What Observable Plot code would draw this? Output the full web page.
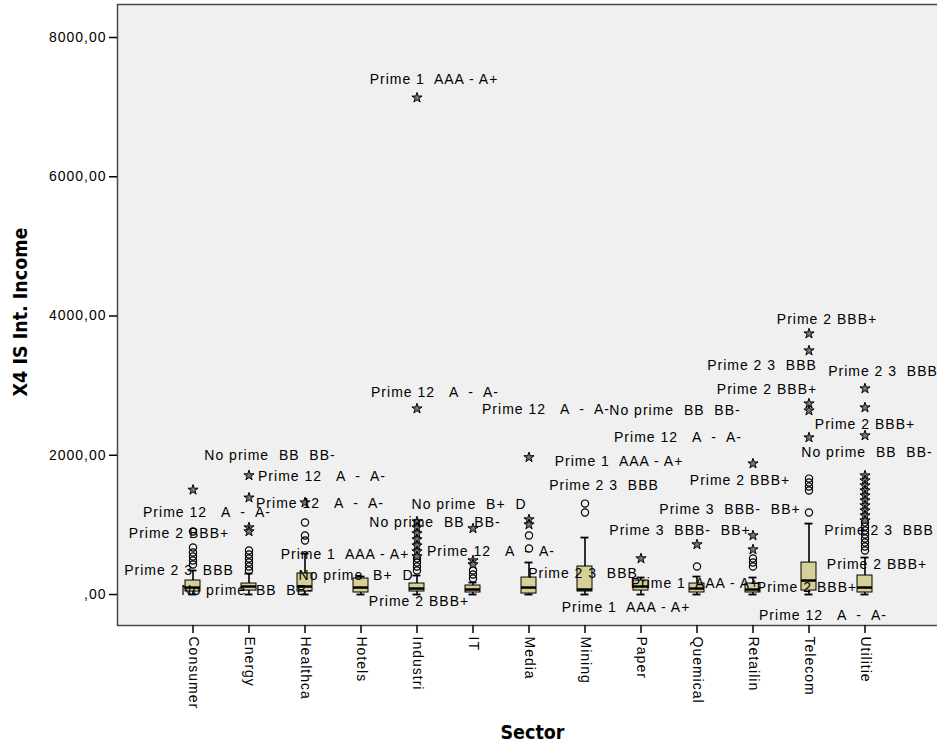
<!DOCTYPE html>
<html>
<head>
<meta charset="utf-8">
<script src="https://cdn.jsdelivr.net/npm/d3@7"></script>
<script src="https://cdn.jsdelivr.net/npm/@observablehq/plot@0.6"></script>
<style>
  html, body { margin: 0; padding: 0; background: #ffffff; overflow: hidden; }
  #chart { width: 937px; height: 751px; }
</style>
</head>
<body>
<div id="chart"></div>
<script>
// ---- Data ----
const sectors = ["Consumer","Energy","Healthca","Hotels","Industri","IT","Media","Mining","Paper","Quemical","Retailin","Telecom","Utilitie"];
const whiskerLow  = [0, 0, 0, 0, 0, 0, 0, 0, 0, 0, 0, 0, 0];
const q1          = [43, 57, 43, 29, 43, 29, 14, 43, 57, 29, 29, 57, 29];
const median      = [100, 115, 115, 100, 86, 72, 100, 72, 115, 86, 72, 201, 100];
const q3          = [201, 158, 302, 230, 158, 129, 244, 402, 201, 158, 158, 459, 273];
const whiskerHigh = [345, 301, 589, 258, 273, 172, 460, 818, 244, 258, 244, 1019, 531];

const circleOutliers = [
  ["Consumer", 905], ["Consumer", 675], ["Consumer", 603], ["Consumer", 546], ["Consumer", 488], ["Consumer", 431],
  ["Energy", 632], ["Energy", 574], ["Energy", 517], ["Energy", 459], ["Energy", 402], ["Energy", 345],
  ["Healthca", 1034], ["Healthca", 847], ["Healthca", 775],
  ["Industri", 517], ["Industri", 459], ["Industri", 402], ["Industri", 345],
  ["IT", 345], ["IT", 287], ["IT", 230],
  ["Media", 847], ["Media", 660],
  ["Mining", 1306], ["Mining", 1177],
  ["Quemical", 402],
  ["Retailin", 517], ["Retailin", 460], ["Retailin", 402],
  ["Telecom", 1665], ["Telecom", 1608], ["Telecom", 1550], ["Telecom", 1493], ["Telecom", 1177],
  ["Utilitie", 1034], ["Utilitie", 976], ["Utilitie", 919], ["Utilitie", 862], ["Utilitie", 804], ["Utilitie", 747], ["Utilitie", 689], ["Utilitie", 632]
];

const starOutliers = [
  ["Consumer", 1503],
  ["Energy", 1710], ["Energy", 1390], ["Energy", 962], ["Energy", 905],
  ["Healthca", 1321],
  ["Industri", 7135], ["Industri", 2670], ["Industri", 1048], ["Industri", 962], ["Industri", 876], ["Industri", 790], ["Industri", 703], ["Industri", 617], ["Industri", 546],
  ["IT", 948], ["IT", 488], ["IT", 431],
  ["Media", 1970], ["Media", 1077], ["Media", 1005],
  ["Paper", 517],
  ["Quemical", 718],
  ["Retailin", 1880], ["Retailin", 847], ["Retailin", 646],
  ["Telecom", 3747], ["Telecom", 3503], ["Telecom", 2742], ["Telecom", 2641], ["Telecom", 2254],
  ["Utilitie", 2958], ["Utilitie", 2685], ["Utilitie", 2283],
  ["Utilitie", 1708], ["Utilitie", 1637], ["Utilitie", 1565], ["Utilitie", 1493], ["Utilitie", 1421],
  ["Utilitie", 1350], ["Utilitie", 1278], ["Utilitie", 1206], ["Utilitie", 1134], ["Utilitie", 1062]
];

// case labels: [text, sector, value, horizontal offset from the sector centre]
const caseLabels = [
  ["Prime 1  AAA - A+", "Industri", 7394, 17],
  ["Prime 12   A  -  A-", "Industri", 2900, 18],
  ["Prime 12   A  -  A-", "Media", 2656, 17],
  ["No prime  BB  BB-", "Paper", 2642, 34],
  ["Prime 12   A  -  A-", "Quemical", 2254, -19],
  ["Prime 1  AAA - A+", "Mining", 1909, 34],
  ["Prime 2 3  BBB", "Mining", 1565, 19],
  ["Prime 3  BBB-  BB+", "Quemical", 1220, 33],
  ["Prime 3  BBB-  BB+", "Paper", 919, 39],
  ["Prime 2 BBB+", "Retailin", 1637, -13],
  ["Prime 2 BBB+", "Telecom", 3948, 18],
  ["Prime 2 3  BBB", "Retailin", 3288, 9],
  ["Prime 2 BBB+", "Retailin", 2943, 14],
  ["Prime 2 3  BBB", "Utilitie", 3202, 18],
  ["Prime 2 BBB+", "Utilitie", 2441, 0],
  ["No prime  BB  BB-", "Utilitie", 2039, 2],
  ["Prime 2 3  BBB", "Utilitie", 919, 14],
  ["Prime 2 BBB+", "Utilitie", 431, 12],
  ["Prime 2 3  BBB", "Mining", 301, -2],
  ["Prime 1  AAA - A+", "Quemical", 158, -2],
  ["Prime 2 BBB+", "Telecom", 100, -2],
  ["Prime 1  AAA - A+", "Mining", -187, 41],
  ["Prime 12   A  -  A-", "Telecom", -301, 14],
  ["No prime  B+  D", "IT", 1292, -4],
  ["No prime  BB  BB-", "Industri", 1034, 18],
  ["Prime 12   A  -  A-", "IT", 617, 18],
  ["Prime 2 BBB+", "Industri", -100, 2],
  ["No prime  BB  BB-", "Energy", 1996, 21],
  ["Prime 12   A  -  A-", "Healthca", 1694, 17],
  ["Prime 12   A  -  A-", "Healthca", 1306, 15],
  ["Prime 12   A  -  A-", "Consumer", 1177, 14],
  ["Prime 2 BBB+", "Consumer", 876, -14],
  ["Prime 1  AAA - A+", "Hotels", 574, -16],
  ["Prime 2 3  BBB", "Consumer", 345, -14],
  ["No prime  B+  D", "Hotels", 273, -5],
  ["No prime  BB  BB-", "Energy", 57, -2]
];

const yTicks = [0, 2000, 4000, 6000, 8000];
const yTitle = "X4 IS Int. Income";
const xTitle = "Sector";

// ---- Build tables ----
const boxes = sectors.map((s, i) => ({sector: s, lo: whiskerLow[i], q1: q1[i], med: median[i], q3: q3[i], hi: whiskerHigh[i]}));
const circles = circleOutliers.map(([sector, value]) => ({sector, value}));
const stars = starOutliers.map(([sector, value]) => ({sector, value}));
const labels = caseLabels.map(([text, sector, value, dx]) => ({text, sector, value, dx}));

const titleFont = "'DejaVu Sans Condensed', 'Liberation Sans Narrow', 'Arial Narrow', 'Liberation Sans', sans-serif";

const chart = Plot.plot({
  width: 937,
  height: 751,
  marginLeft: 117,
  marginRight: -2,
  marginTop: 4,
  marginBottom: 126,
  style: "background: #ffffff; font-family: 'Liberation Sans', Arial, sans-serif; font-size: 14px; letter-spacing: 1px; color: #000;",
  x: {type: "band", domain: sectors, paddingInner: 0.737, paddingOuter: 1.08, label: null},
  y: {domain: [-445, 8474], label: null},
  marks: [
    Plot.frame({fill: "#f0f0f0", stroke: "#4a4a4a", strokeWidth: 1.5}),
    Plot.axisY({ticks: yTicks, tickSize: 8, tickPadding: 3, strokeWidth: 1.5,
      tickFormat: d => d === 0 ? ",00" : d + ",00", fontSize: 14}),
    Plot.axisX({tickSize: 8, tickPadding: 3, tickRotate: 90, strokeWidth: 1.5, fontSize: 14}),
    // whiskers
    Plot.ruleX(boxes, {x: "sector", y1: "q3", y2: "hi", stroke: "#000", strokeWidth: 1.6}),
    Plot.ruleX(boxes, {x: "sector", y1: "lo", y2: "q1", stroke: "#000", strokeWidth: 1.6}),
    Plot.tickY(boxes, {x: "sector", y: "hi", stroke: "#000", strokeWidth: 1.8, insetLeft: 3.5, insetRight: 3.5}),
    Plot.tickY(boxes, {x: "sector", y: "lo", stroke: "#000", strokeWidth: 1.8, insetLeft: 3.5, insetRight: 3.5}),
    // boxes
    Plot.barY(boxes, {x: "sector", y1: "q1", y2: "q3", fill: "#d6cf98", stroke: "#000", strokeWidth: 1}),
    Plot.tickY(boxes, {x: "sector", y: "med", stroke: "#000", strokeWidth: 2.5}),
    // outliers
    Plot.dot(circles, {x: "sector", y: "value", r: 3.6, stroke: "#000", strokeWidth: 1.2, fill: "none"}),
    Plot.dot(stars, {x: "sector", y: "value", symbol: "star", r: 3.2, stroke: "#000", strokeWidth: 1, fill: "#777"}),
    // case labels (one text mark per label so each can carry its own offset)
    ...labels.map(l => Plot.text([l], {x: "sector", y: "value", text: "text", dx: l.dx, fill: "#000", fontSize: 14})),
    // axis titles
    Plot.text([yTitle], {frameAnchor: "left", dx: -97, dy: -3, rotate: -90, textAnchor: "middle",
      fontSize: 19.5, fontWeight: "bold", fontFamily: titleFont, fill: "#000"}),
    Plot.text([xTitle], {frameAnchor: "bottom", dy: 113, dx: 4, textAnchor: "middle",
      fontSize: 19.5, fontWeight: "bold", fontFamily: titleFont, fill: "#000"})
  ]
});
document.getElementById("chart").appendChild(chart);

// axis titles are drawn without the extra letter spacing used by the other texts
d3.select(chart).selectAll("text")
  .filter(function () { return this.textContent === yTitle || this.textContent === xTitle; })
  .style("letter-spacing", "0px");
</script>
</body>
</html>
